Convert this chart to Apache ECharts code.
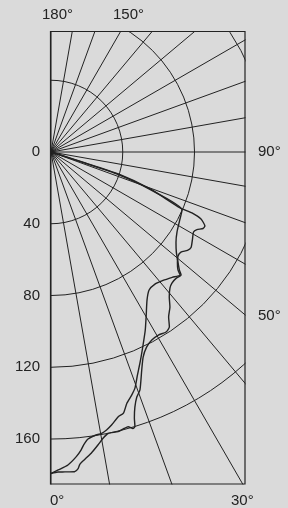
<!DOCTYPE html>
<html>
<head>
<meta charset="utf-8">
<script src="https://cdn.jsdelivr.net/npm/echarts@6/dist/echarts.min.js"></script>
<style>
html, body { margin: 0; padding: 0; background: #dadada; }
#chart { width: 288px; height: 508px; }
</style>
</head>
<body>
<div id="chart"></div>
<script>
// Radius ticks shown on the left edge
const radiusTicks = [0, 40, 80, 120, 160];
// Angle labels around the frame
const angleLabels = ['180°', '150°', '90°', '50°', '30°', '0°'];

// Curves as [intensity, angle]
const curve1 = [
    [0, 74], [20, 72.3], [39.5, 71.9], [59, 69.6], [78.4, 66.6], [85.6, 66.6],
    [91.6, 65.9], [95.2, 64.3], [94.9, 63.3], [92.1, 62.0], [91.1, 60.7], [92.6, 58.4],
    [94.5, 55.7], [93.8, 54.2], [91.4, 52.4], [91.5, 50.7], [93.8, 48.7], [96.6, 47.1],
    [99.4, 46.4], [97.2, 44.05], [95.0, 41.1], [93.7, 38.2], [94.4, 35.4], [98.3, 33.0],
    [105.2, 30.3], [112.3, 27.9], [119.2, 25.5], [126.2, 23.3], [133.3, 21.2], [139.6, 19.6],
    [142.7, 18.4], [146.3, 16.8], [151.1, 15.5], [152.2, 14.3], [155.9, 12.5], [158.0, 11.3],
    [159.3, 10.2], [159.9, 8.8], [161.3, 7.35], [164.1, 6.4], [167.0, 5.75], [170.4, 4.75],
    [174.7, 3.1], [177.3, 1.3], [179.2, 0]
];
const curve2 = [
    [0, 74], [20, 71.8], [39, 71.5], [59.5, 69.2], [79.9, 66.1], [81.3, 61.8],
    [83.2, 57.6], [85.9, 54.2], [89.4, 51.4], [93.6, 49.1], [97.2, 47.4], [99.8, 46.6],
    [99.1, 44.7], [99.4, 42.7], [100.7, 41.2], [104.3, 39.2], [108.9, 37.5], [112.9, 35.5],
    [117.7, 34.1], [119.1, 32.6], [118.3, 30.4], [118.9, 28.2], [121.1, 26.1], [125.3, 24.2],
    [131.6, 22.6], [141.6, 20.5], [144.7, 19.3], [149.7, 18.2], [155.4, 17.4], [160.0, 17.0],
    [160.8, 16.5], [159.1, 15.7], [159.4, 14.8], [160.3, 13.5], [160.1, 11.45], [162.2, 10.3],
    [165.4, 9.1], [169.4, 7.6], [172.3, 6.3], [174.7, 5.3], [177.1, 4.9], [178.7, 4.2],
    [178.5, 2.5], [178.4, 1.25], [179.2, 0]
];

const BG = '#dadada';
const INK = '#222';
const FONT = '15px "Liberation Sans", Arial, sans-serif';
const CX = 51, CY = 152;
const PX_PER_UNIT = 1.794;
const R_MAX = 240;
const R_STEP = 40;

// circles beyond the last tick are hidden (they only exist to let the spokes reach the frame)
const circleColors = [];
for (let v = 0; v <= R_MAX; v += R_STEP) {
    circleColors.push(v <= radiusTicks[radiusTicks.length - 1] ? INK : 'rgba(0,0,0,0)');
}

// frame + label placement (pixels)
const FRAME = { x: 50.5, y: 31.5, w: 194.5, h: 452.5 };
const labelPos = [
    [42, 15], [113, 15], [258, 152], [258, 316], [231, 501], [50, 501]
];

const chart = echarts.init(document.getElementById('chart'), null, { renderer: 'canvas' });

const masks = [
    { x: 0, y: 0, width: 288, height: FRAME.y - 0.5 },
    { x: FRAME.x + FRAME.w + 0.5, y: 0, width: 60, height: 508 },
    { x: 0, y: FRAME.y + FRAME.h + 0.5, width: 288, height: 40 }
].map(s => ({ type: 'rect', z: 100, silent: true, shape: s, style: { fill: BG } }));

const texts = angleLabels.map((t, i) => ({
    type: 'text', z: 102, silent: true,
    style: { text: t, x: labelPos[i][0], y: labelPos[i][1], fill: INK, font: FONT, verticalAlign: 'middle' }
}));

const option = {
    backgroundColor: BG,
    animation: false,
    polar: { center: [CX, CY], radius: R_MAX * PX_PER_UNIT },
    angleAxis: {
        type: 'value', min: 0, max: 180, interval: 10,
        startAngle: -90, endAngle: 90, clockwise: false,
        axisLine: { show: false }, axisTick: { show: false }, axisLabel: { show: false },
        splitLine: { show: true, lineStyle: { color: INK, width: 1 } }
    },
    radiusAxis: {
        type: 'value', min: 0, max: R_MAX, interval: R_STEP,
        axisLine: { show: false }, axisTick: { show: false },
        axisLabel: {
            margin: -11, align: 'right', verticalAlign: 'middle',
            color: INK, fontSize: 15, fontFamily: '"Liberation Sans", Arial, sans-serif',
            formatter: v => radiusTicks.includes(v) ? String(v) : ''
        },
        splitLine: { show: true, lineStyle: { color: circleColors, width: 1 } }
    },
    series: [curve1, curve2].map(d => ({
        type: 'line', coordinateSystem: 'polar', data: d,
        showSymbol: false, smooth: 0.2,
        lineStyle: { color: INK, width: 1.4 }
    })),
    graphic: masks.concat([{
        type: 'rect', z: 101, silent: true,
        shape: { x: FRAME.x, y: FRAME.y, width: FRAME.w, height: FRAME.h },
        style: { fill: 'none', stroke: INK, lineWidth: 1.2 }
    }]).concat(texts)
};

chart.setOption(option);
</script>
</body>
</html>
